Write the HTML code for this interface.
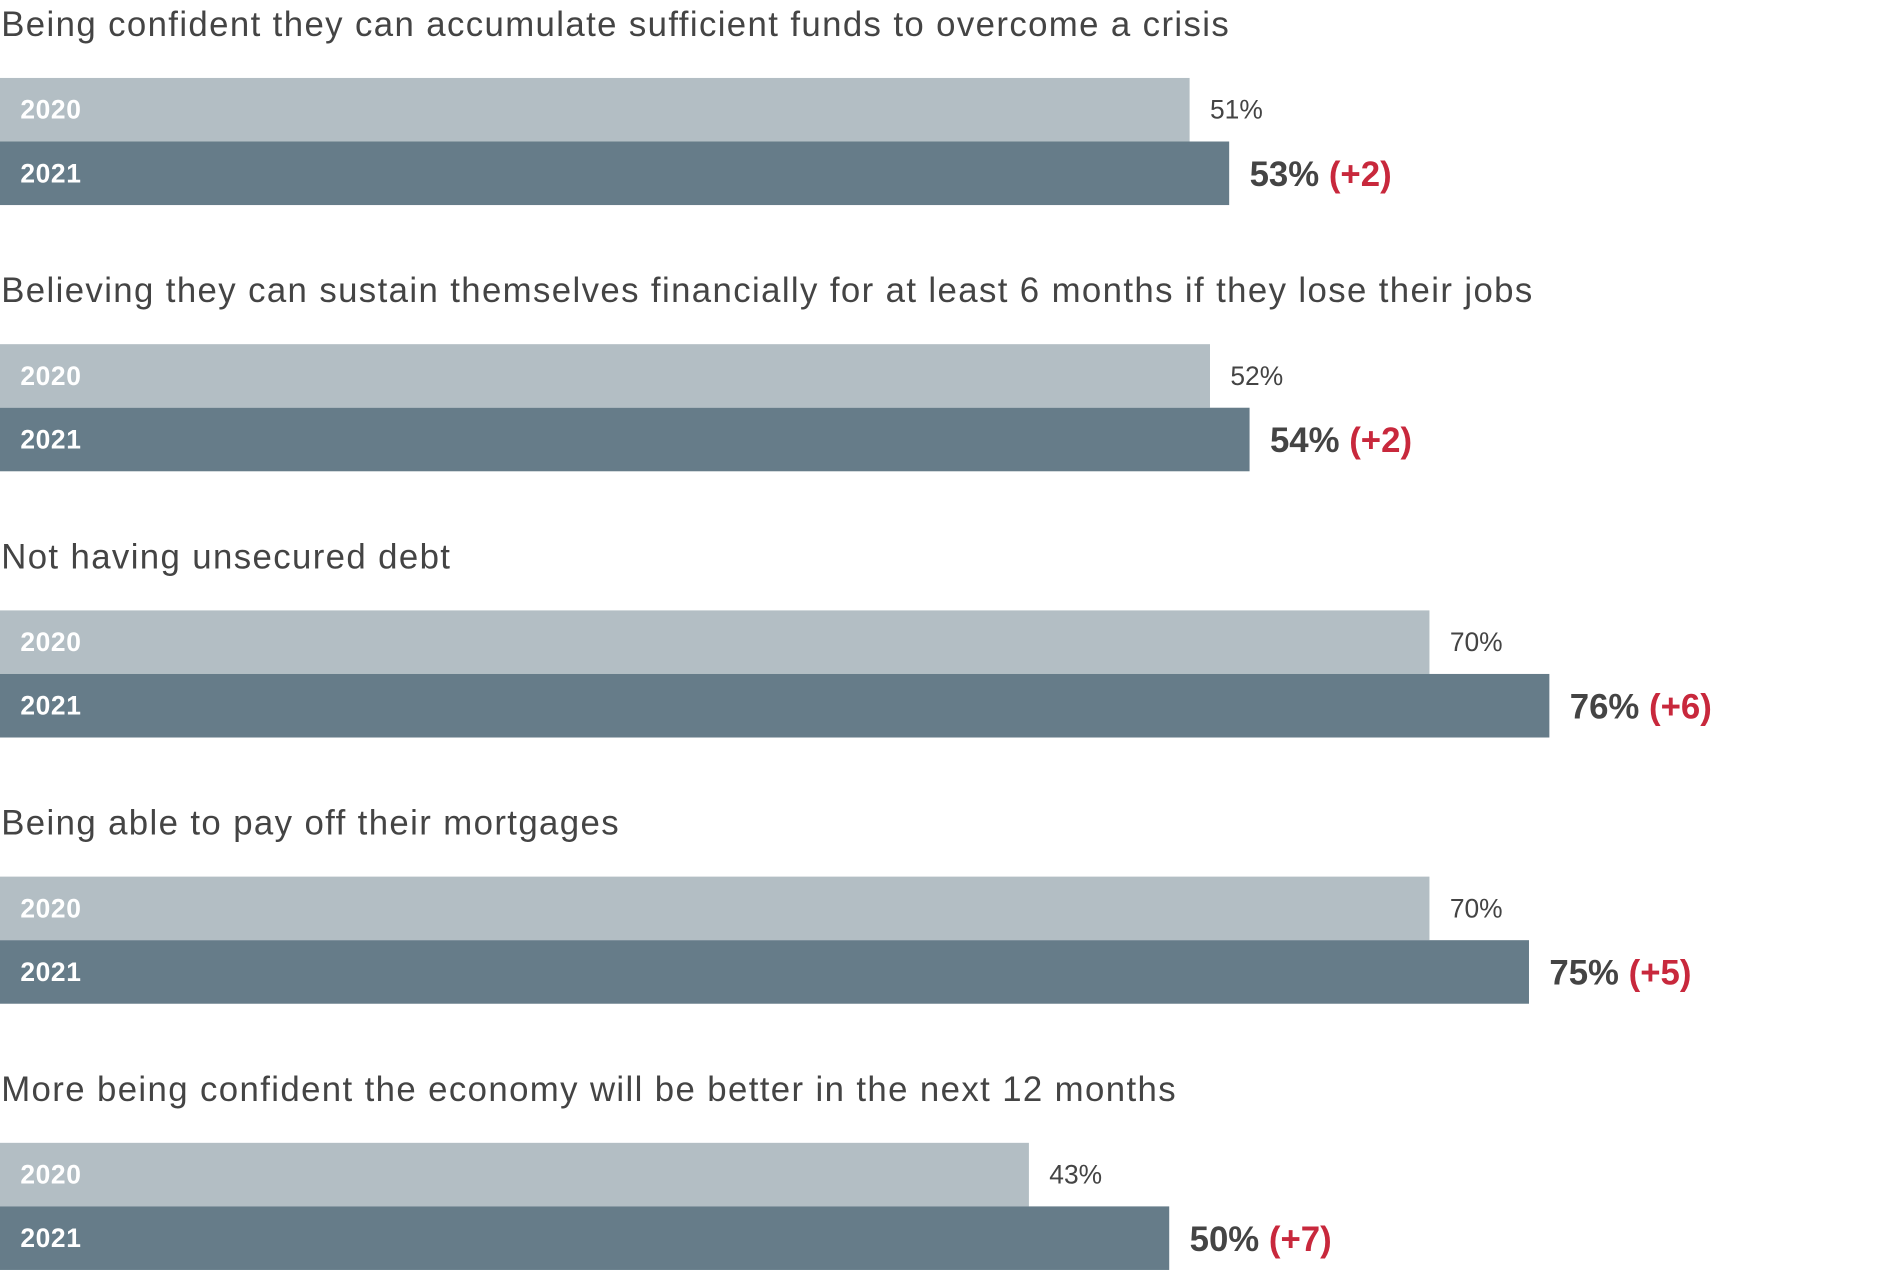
<!DOCTYPE html>
<html><head><meta charset="utf-8"><style>
html,body{margin:0;padding:0;background:#fff;width:1880px;height:1270px;overflow:hidden}
#w{position:absolute;left:0;top:0;width:1568px;height:1059px;transform:scale(1.1992);transform-origin:0 0;font-family:"Liberation Sans",sans-serif;color:#444}
.t{position:absolute;left:1px;font-size:29px;letter-spacing:1.15px;white-space:nowrap;line-height:1}
.b{position:absolute;left:0;height:53px}
.l{background:#b3bec4}.d{background:#667c89}
.y{position:absolute;left:17px;color:#fff;font-weight:bold;font-size:22px;letter-spacing:0.5px;line-height:53px}
.v{position:absolute;font-size:22px;line-height:53px;color:#444;white-space:nowrap}
.V{position:absolute;font-size:29px;font-weight:bold;line-height:53px;color:#444;top:2px;white-space:nowrap}
.V span{color:#c8283c}
</style></head><body><div id="w">
<div class="t" style="top:7px">Being confident they can accumulate sufficient funds to overcome a crisis</div>
<div class="b l" style="top:65px;width:992px"><div class="y">2020</div><div class="v" style="left:1009px">51%</div></div>
<div class="b d" style="top:118px;width:1025px"><div class="y">2021</div><div class="V" style="left:1042px">53% <span>(+2)</span></div></div>

<div class="t" style="top:229px">Believing they can sustain themselves financially for at least 6 months if they lose their jobs</div>
<div class="b l" style="top:287px;width:1009px"><div class="y">2020</div><div class="v" style="left:1026px">52%</div></div>
<div class="b d" style="top:340px;width:1042px"><div class="y">2021</div><div class="V" style="left:1059px">54% <span>(+2)</span></div></div>

<div class="t" style="top:451px">Not having unsecured debt</div>
<div class="b l" style="top:509px;width:1192px"><div class="y">2020</div><div class="v" style="left:1209px">70%</div></div>
<div class="b d" style="top:562px;width:1292px"><div class="y">2021</div><div class="V" style="left:1309px">76% <span>(+6)</span></div></div>

<div class="t" style="top:673px">Being able to pay off their mortgages</div>
<div class="b l" style="top:731px;width:1192px"><div class="y">2020</div><div class="v" style="left:1209px">70%</div></div>
<div class="b d" style="top:784px;width:1275px"><div class="y">2021</div><div class="V" style="left:1292px">75% <span>(+5)</span></div></div>

<div class="t" style="top:895px">More being confident the economy will be better in the next 12 months</div>
<div class="b l" style="top:953px;width:858px"><div class="y">2020</div><div class="v" style="left:875px">43%</div></div>
<div class="b d" style="top:1006px;width:975px"><div class="y">2021</div><div class="V" style="left:992px">50% <span>(+7)</span></div></div>
</div></body></html>
